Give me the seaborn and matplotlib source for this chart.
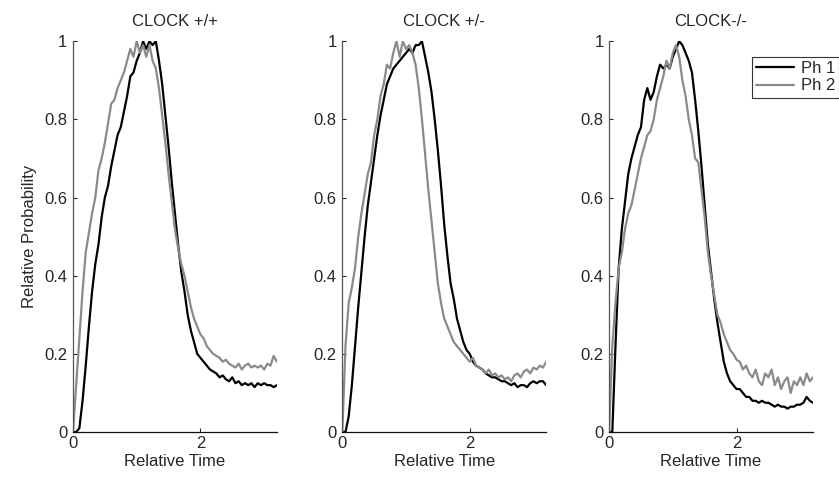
import numpy as np
import pandas as pd
import matplotlib
matplotlib.use("Agg")
import matplotlib.pyplot as plt
import seaborn as sns

# relative time grid (0 .. 3.2, step 0.05)
rel_time = [round(0.05 * i, 2) for i in range(65)]

titles = ["CLOCK +/+", "CLOCK +/-", "CLOCK-/-"]
phases = ["Ph 1", "Ph 2"]

wt_ph1 = [0, 0, 0.01, 0.08, 0.17, 0.27, 0.36, 0.43, 0.48, 0.55,
          0.60, 0.63, 0.68, 0.72, 0.76, 0.78, 0.82, 0.86, 0.91, 0.92,
          0.95, 0.97, 1.00, 0.98, 1.00, 0.99, 1.00, 0.95, 0.89, 0.81,
          0.73, 0.64, 0.56, 0.48, 0.41, 0.36, 0.30, 0.26, 0.23, 0.20,
          0.19, 0.18, 0.17, 0.16, 0.155, 0.15, 0.14, 0.145, 0.135, 0.13,
          0.14, 0.125, 0.13, 0.12, 0.125, 0.12, 0.125, 0.115, 0.125, 0.12,
          0.125, 0.12, 0.12, 0.115, 0.12]
wt_ph2 = [0, 0.12, 0.24, 0.36, 0.46, 0.51, 0.56, 0.60, 0.67, 0.70,
          0.74, 0.79, 0.84, 0.85, 0.88, 0.90, 0.92, 0.95, 0.98, 0.96,
          1.00, 0.97, 0.99, 0.96, 0.99, 0.95, 0.93, 0.88, 0.81, 0.74,
          0.66, 0.59, 0.52, 0.47, 0.43, 0.40, 0.36, 0.32, 0.29, 0.27,
          0.25, 0.24, 0.22, 0.21, 0.20, 0.195, 0.19, 0.18, 0.185, 0.175,
          0.17, 0.165, 0.175, 0.16, 0.17, 0.175, 0.165, 0.17, 0.165, 0.17,
          0.16, 0.175, 0.17, 0.195, 0.18]

het_ph1 = [0, 0, 0.04, 0.12, 0.22, 0.32, 0.41, 0.50, 0.58, 0.64,
           0.70, 0.76, 0.81, 0.85, 0.89, 0.91, 0.93, 0.94, 0.95, 0.96,
           0.97, 0.98, 0.97, 0.99, 0.99, 1.00, 0.96, 0.92, 0.87, 0.80,
           0.72, 0.63, 0.53, 0.45, 0.38, 0.34, 0.29, 0.26, 0.23, 0.21,
           0.20, 0.18, 0.17, 0.165, 0.16, 0.15, 0.145, 0.14, 0.14, 0.135,
           0.13, 0.13, 0.125, 0.12, 0.125, 0.115, 0.12, 0.12, 0.115, 0.125,
           0.13, 0.125, 0.13, 0.13, 0.12]
het_ph2 = [0, 0.22, 0.33, 0.37, 0.42, 0.50, 0.56, 0.61, 0.66, 0.69,
           0.76, 0.80, 0.86, 0.89, 0.94, 0.93, 0.97, 1.00, 0.96, 1.00,
           0.98, 0.99, 0.97, 0.94, 0.88, 0.80, 0.71, 0.62, 0.54, 0.46,
           0.38, 0.33, 0.29, 0.27, 0.25, 0.23, 0.22, 0.21, 0.20, 0.19,
           0.18, 0.19, 0.17, 0.165, 0.16, 0.15, 0.16, 0.145, 0.15, 0.14,
           0.145, 0.135, 0.14, 0.13, 0.145, 0.15, 0.14, 0.155, 0.16, 0.15,
           0.165, 0.16, 0.17, 0.165, 0.18]

ko_ph1 = [0, 0, 0.22, 0.42, 0.52, 0.59, 0.66, 0.70, 0.73, 0.76,
          0.78, 0.85, 0.88, 0.85, 0.87, 0.91, 0.94, 0.93, 0.94, 0.93,
          0.96, 0.98, 1.00, 0.99, 0.97, 0.95, 0.92, 0.85, 0.77, 0.68,
          0.58, 0.48, 0.41, 0.34, 0.28, 0.23, 0.18, 0.15, 0.13, 0.12,
          0.11, 0.11, 0.10, 0.09, 0.09, 0.08, 0.08, 0.075, 0.08, 0.075,
          0.075, 0.07, 0.065, 0.07, 0.065, 0.065, 0.06, 0.065, 0.065, 0.07,
          0.07, 0.075, 0.09, 0.08, 0.075]
ko_ph2 = [0, 0.22, 0.33, 0.42, 0.46, 0.52, 0.56, 0.58, 0.62, 0.66,
          0.70, 0.73, 0.76, 0.77, 0.80, 0.85, 0.88, 0.91, 0.95, 0.93,
          0.97, 0.99, 0.96, 0.90, 0.86, 0.80, 0.76, 0.70, 0.69, 0.62,
          0.55, 0.46, 0.40, 0.35, 0.30, 0.28, 0.25, 0.23, 0.21, 0.20,
          0.185, 0.18, 0.16, 0.17, 0.15, 0.14, 0.16, 0.13, 0.12, 0.15,
          0.14, 0.16, 0.12, 0.14, 0.11, 0.13, 0.14, 0.10, 0.13, 0.12,
          0.14, 0.12, 0.15, 0.13, 0.14]

series = [(wt_ph1, wt_ph2), (het_ph1, het_ph2), (ko_ph1, ko_ph2)]

sns.set_style("ticks")
plt.rcParams["font.family"] = ["Liberation Sans", "DejaVu Sans"]
fs = 12

fig = plt.figure(figsize=(8.39, 4.79), dpi=100)
lefts = [0.087, 0.408, 0.726]
colors = {"Ph 1": "black", "Ph 2": "#8a8a8a"}

for i, (title, (p1, p2)) in enumerate(zip(titles, series)):
    ax = fig.add_axes([lefts[i], 0.098, 0.243, 0.816])
    df = pd.DataFrame({
        "time": rel_time * 2,
        "prob": p1 + p2,
        "phase": ["Ph 1"] * len(p1) + ["Ph 2"] * len(p2),
    })
    sns.lineplot(data=df, x="time", y="prob", hue="phase", palette=colors,
                 hue_order=["Ph 1", "Ph 2"], estimator=None, linewidth=1.6,
                 ax=ax, legend=(i == 2))
    ax.set_xlim(0, 3.2)
    ax.set_ylim(0, 1)
    ax.set_xticks([0, 2])
    ax.set_yticks([0, 0.2, 0.4, 0.6, 0.8, 1])
    ax.set_yticklabels(["0", "0.2", "0.4", "0.6", "0.8", "1"])
    ax.tick_params(direction="in", length=3, width=0.8, labelsize=fs)
    ax.tick_params(axis="x", pad=3)
    ax.tick_params(axis="y", pad=4)
    for s in ["top", "right"]:
        ax.spines[s].set_visible(False)
    for s in ["left", "bottom"]:
        ax.spines[s].set_linewidth(0.9)
    ax.spines["left"].set_color("#555555")
    ax.spines["bottom"].set_color("#111111")
    ax.set_xlabel("Relative Time", fontsize=fs, labelpad=2)
    ax.set_ylabel("Relative Probability" if i == 0 else "", fontsize=fs, labelpad=5)
    ax.set_title(title, fontsize=fs, pad=11)
    if i == 2:
        leg = ax.legend(title=None, loc="upper right", bbox_to_anchor=(1.13, 0.96),
                        frameon=True, fancybox=False, fontsize=fs,
                        handlelength=2.3, borderpad=0.25, labelspacing=0.15,
                        handletextpad=0.4, borderaxespad=0)
        leg.get_frame().set_edgecolor("black")
        leg.get_frame().set_linewidth(0.8)

fig.savefig("out.png", dpi=100)
